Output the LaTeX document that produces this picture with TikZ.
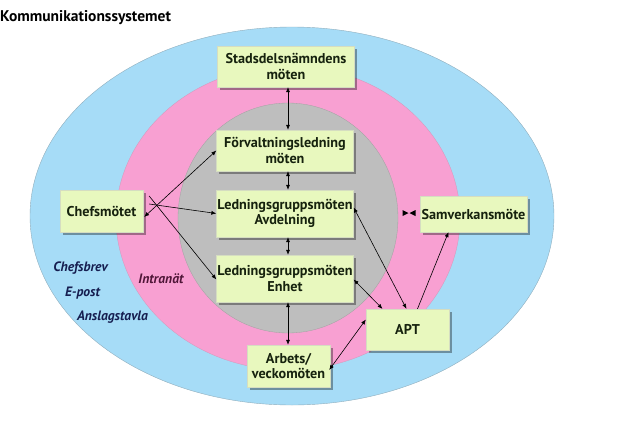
\documentclass[tikz,border=0pt]{standalone}
\usepackage{fontspec}
\setmainfont{PT Sans}
\usetikzlibrary{arrows.meta,shadows}
\definecolor{outerblue}{RGB}{166,220,247}
\definecolor{ringpink}{RGB}{248,160,210}
\definecolor{coregray}{RGB}{190,190,190}
\definecolor{boxgreen}{RGB}{232,248,190}
\definecolor{boxtext}{RGB}{22,34,14}
\definecolor{navytext}{RGB}{22,30,80}
\definecolor{plumtext}{RGB}{80,22,56}
\begin{document}
\begin{tikzpicture}[x=1pt,y=-1pt,
  meet/.style={rectangle, fill=boxgreen, draw=boxgreen!80!black!60, line width=0.3pt,
    text=boxtext, font=\bfseries\fontsize{14.2}{15.5}\selectfont, align=center,
    inner sep=0pt, drop shadow={shadow xshift=2.5pt, shadow yshift=-2.5pt, fill=black, opacity=0.35}},
  medium/.style={text=navytext, font=\bfseries\itshape\fontsize{13.6}{15}\selectfont},
  link/.style={line width=0.6pt, draw=black},
  both/.style={link, {Latex[length=5pt,width=4pt]}-{Latex[length=5pt,width=4pt]}},
  one/.style={link, -{Latex[length=5pt,width=4pt]}}]
\useasboundingbox (0,0) rectangle (641,445);
% rings
\fill[outerblue, draw=outerblue!70!black!80, line width=0.4pt] (292,216) ellipse [x radius=262, y radius=189];
\fill[ringpink, draw=ringpink!80!black!80, line width=0.3pt] (288,218) ellipse [x radius=172, y radius=152];
\fill[coregray, draw=coregray!85!black, line width=0.3pt] (288,218) ellipse [x radius=110, y radius=115];
% title
\node[anchor=west, inner sep=0pt, font=\bfseries\fontsize{15.5}{17}\selectfont, text=black] (title) at (0,18) {Kommunikationssystemet};
% boxes
\node[meet, minimum width=137pt, minimum height=41pt] (sdn) at (286,66.5) {Stadsdelsnämndens\\möten};
\node[meet, minimum width=137pt, minimum height=41pt] (fl) at (285,150.5) {Förvaltningsledning\\möten};
\node[meet, minimum width=137pt, minimum height=47pt] (lga) at (285,213.5) {Ledningsgruppsmöten\\Avdelning};
\node[meet, minimum width=137pt, minimum height=47pt] (lge) at (285,278.5) {Ledningsgruppsmöten\\Enhet};
\node[meet, minimum width=83pt, minimum height=42pt] (chef) at (101.5,211) {Chefsmötet};
\node[meet, minimum width=107pt, minimum height=36pt] (sam) at (473.5,214) {Samverkansmöte};
\node[meet, minimum width=83pt, minimum height=41pt] (apt) at (407.5,329.5) {APT};
\node[meet, minimum width=83pt, minimum height=42pt] (arb) at (288.5,366) {Arbets/\\veckomöten};
% media labels
\node[medium] (brev) at (80.5,268) {Chefsbrev};
\node[medium] (epost) at (82.5,293) {E-post};
\node[medium] (tavla) at (112.5,317) {Anslagstavla};
\node[medium, text=plumtext] (intra) at (161,279) {Intranät};
% vertical links
\draw[both] (sdn.south -| 288,0) -- (fl.north -| 288,0);
\draw[both] (fl.south -| 288,0) -- (lga.north -| 288,0);
\draw[both] (lga.south -| 288,0) -- (lge.north -| 288,0);
\draw[both] (lge.south -| 288,0) -- (arb.north -| 288,0);
% chefsmötet links
\draw[both] ([xshift=1pt,yshift=-6pt]chef.east) -- ([yshift=0pt]fl.west);
\draw[one] ([xshift=6pt,yshift=7pt]chef.east) -- ([yshift=0pt]lga.west);
\draw[one] ([xshift=6pt,yshift=15pt]chef.east) -- ([yshift=-1pt]lge.west);
% APT links
\draw[both] ([yshift=6pt]lga.east) -- ([xshift=-1pt]apt.north);
\draw[both] ([yshift=-1pt]lge.east) -- ([xshift=-25pt]apt.north);
\draw[one] ([xshift=10pt]apt.north) -- ([xshift=-25pt]sam.south);
\draw[both] ([xshift=-1pt,yshift=-4pt]arb.east) -- ([yshift=10pt]apt.west);
% small converging arrowheads left of Samverkansmöte
\coordinate (tipl) at (408.5,213);
\coordinate (tipr) at (409.5,213);
\fill[black] (tipl) -- ++(-6,-3) -- ++(0,6) -- cycle;
\fill[black] (tipr) -- ++(6,-3) -- ++(0,6) -- cycle;
\end{tikzpicture}
\end{document}
